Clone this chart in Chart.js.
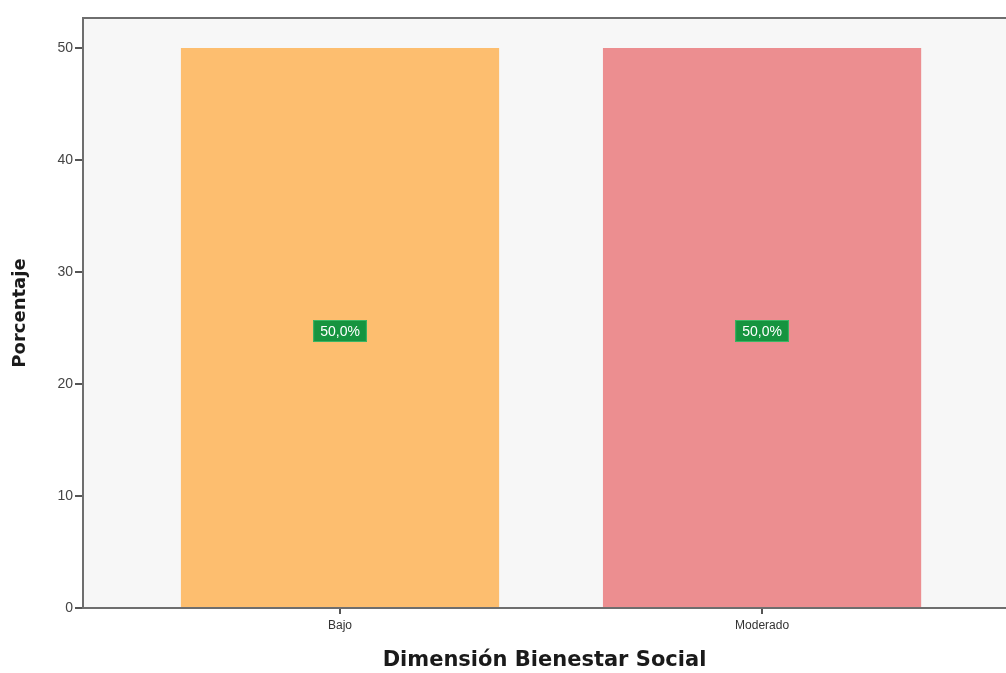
<!DOCTYPE html>
<html>
<head>
<meta charset="utf-8">
<script src="https://cdn.jsdelivr.net/npm/chart.js@4.4.1/dist/chart.umd.min.js"></script>
<style>
  html, body { margin: 0; padding: 0; background: #ffffff; }
  #wrap { width: 1006px; height: 673px; position: relative; }
</style>
</head>
<body>
<div id="wrap"><canvas id="c"></canvas></div>
<script>
// Dimensión Bienestar Social: percentage per level
const categories = ['Bajo', 'Moderado'];
const percentages = [50, 50];
const yTicks = [0, 10, 20, 30, 40, 50];
const barColors = ['#fdbe6f', '#ec8e90'];

const positions = categories.map((_, i) => i + 1);

// Plot-area background and top frame line
const framePlugin = {
  id: 'frame',
  beforeDraw(chart) {
    const { ctx, chartArea: a } = chart;
    ctx.save();
    ctx.fillStyle = '#f7f7f7';
    ctx.fillRect(a.left, a.top, a.right - a.left, a.bottom - a.top);
    ctx.restore();
  },
  afterDraw(chart) {
    const { ctx, chartArea: a } = chart;
    ctx.save();
    ctx.strokeStyle = '#6e6e6e';
    ctx.lineWidth = 2;
    ctx.beginPath();
    ctx.moveTo(a.left, a.top);
    ctx.lineTo(a.right, a.top);
    ctx.stroke();
    ctx.restore();
  }
};

// Green value boxes at mid-height of each bar
const valueLabels = {
  id: 'valueLabels',
  afterDatasetsDraw(chart) {
    const { ctx } = chart;
    const yScale = chart.scales.y;
    const meta = chart.getDatasetMeta(0);
    ctx.save();
    ctx.font = '14px "Liberation Sans", Arial, sans-serif';
    ctx.textAlign = 'center';
    ctx.textBaseline = 'middle';
    meta.data.forEach((bar, i) => {
      const v = percentages[i];
      const text = v.toFixed(1).replace('.', ',') + '%';
      const cy = yScale.getPixelForValue(v / 2) + 3;
      const w = ctx.measureText(text).width + 14;
      const h = 22;
      ctx.fillStyle = '#16943f';
      ctx.fillRect(bar.x - w / 2, cy - h / 2, w, h);
      ctx.strokeStyle = '#3bb565';
      ctx.lineWidth = 1;
      ctx.strokeRect(bar.x - w / 2 + 0.5, cy - h / 2 + 0.5, w - 1, h - 1);
      ctx.fillStyle = '#ffffff';
      ctx.fillText(text, bar.x, cy + 1);
    });
    ctx.restore();
  }
};

new Chart(document.getElementById('c'), {
  type: 'bar',
  data: {
    datasets: [{
      data: positions.map((x, i) => ({ x: x, y: percentages[i] })),
      backgroundColor: barColors,
      borderWidth: 0,
      barPercentage: 0.754,
      categoryPercentage: 1.0
    }]
  },
  options: {
    responsive: true,
    maintainAspectRatio: false,
    animation: false,
    layout: { padding: { top: 18, right: 0, left: 0, bottom: 0 } },
    plugins: { legend: { display: false }, tooltip: { enabled: false } },
    scales: {
      x: {
        type: 'linear',
        offset: false,
        min: 0.391,
        max: 2.578,
        afterBuildTicks(scale) { scale.ticks = positions.map(v => ({ value: v })); },
        afterFit(scale) { scale.height = 65; },
        ticks: {
          callback: (v) => categories[Math.round(v) - 1],
          color: '#333333',
          font: { size: 12, family: '"Liberation Sans", Arial, sans-serif' },
          padding: 4
        },
        grid: { display: true, offset: false, drawOnChartArea: false, tickLength: 6, color: '#555555', lineWidth: 2 },
        border: { display: true, color: '#6e6e6e', width: 2 },
        title: {
          display: true,
          text: 'Dimensión Bienestar Social',
          color: '#1a1a1a',
          font: { size: 21, weight: 'bold', family: '"DejaVu Sans", Arial, sans-serif' },
          padding: { top: 8, bottom: 0 }
        }
      },
      y: {
        min: 0,
        max: 52.68,
        afterBuildTicks(scale) { scale.ticks = yTicks.map(v => ({ value: v })); },
        afterFit(scale) { scale.width = 83; },
        ticks: {
          color: '#444444',
          font: { size: 14, family: '"Liberation Sans", Arial, sans-serif' },
          padding: 2
        },
        grid: { display: true, drawOnChartArea: false, tickLength: 8, color: '#555555', lineWidth: 2 },
        border: { display: true, color: '#6e6e6e', width: 2 },
        title: {
          display: true,
          text: 'Porcentaje',
          color: '#1a1a1a',
          font: { size: 18, weight: 'bold', family: '"DejaVu Sans", Arial, sans-serif' },
          padding: { top: 10, bottom: 0 }
        }
      }
    }
  },
  plugins: [framePlugin, valueLabels]
});
</script>
</body>
</html>
